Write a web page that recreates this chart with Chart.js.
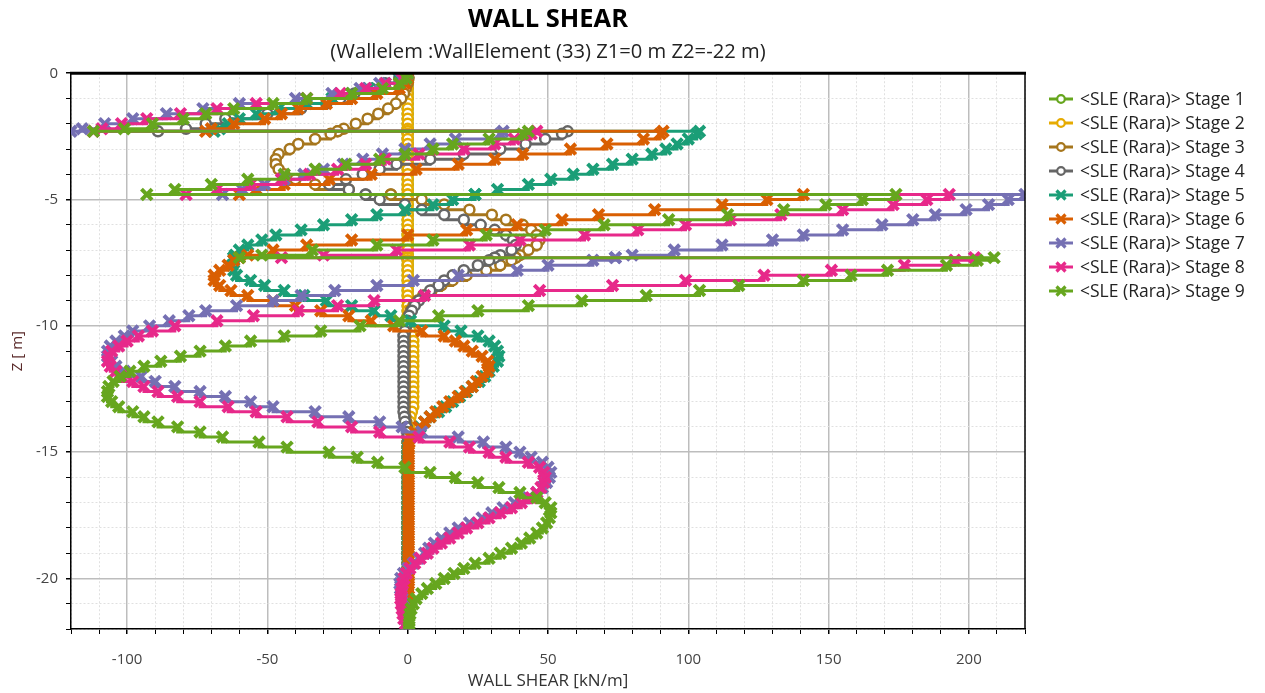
<!DOCTYPE html>
<html>
<head>
<meta charset="utf-8">
<title>Wall shear</title>
<script src="https://cdn.jsdelivr.net/npm/chart.js@4.4.1/dist/chart.umd.min.js"></script>
<style>
  html, body { margin: 0; padding: 0; background: #fff; }
  #wrap { width: 1265px; height: 693px; }
</style>
</head>
<body>
<div id="wrap"><canvas id="wallShearChart" width="1265" height="693"></canvas></div>
<script>
// node depths [m]; anchors at -2.3, -4.8, -7.3 are listed twice (jump in shear)
const depth = [
  0, -0.2, -0.4, -0.6, -0.8, -1.0, -1.2, -1.4, -1.6, -1.8, -2.0, -2.2, -2.3,
  -2.3, -2.4, -2.6, -2.8, -3.0, -3.2, -3.4, -3.6, -3.8, -4.0, -4.2, -4.4, -4.6, -4.8,
  -4.8, -5.0, -5.2, -5.4, -5.6, -5.8, -6.0, -6.2, -6.4, -6.6, -6.8, -7.0, -7.2, -7.3,
  -7.3, -7.4, -7.6, -7.8, -8.0, -8.2, -8.4, -8.6, -8.8, -9.0, -9.2, -9.4, -9.6, -9.8, -10.0,
  -10.2, -10.4, -10.6, -10.8, -11.0, -11.2, -11.4, -11.6, -11.8, -12.0, -12.2, -12.4, -12.6, -12.8, -13.0, -13.2, -13.4, -13.6, -13.8, -14.0,
  -14.2, -14.4, -14.6, -14.8, -15.0, -15.2, -15.4, -15.6, -15.8, -16.0, -16.2, -16.4, -16.6, -16.8, -17.0, -17.2, -17.4, -17.6, -17.8, -18.0,
  -18.2, -18.4, -18.6, -18.8, -19.0, -19.2, -19.4, -19.6, -19.8, -20.0, -20.2, -20.4, -20.6, -20.8, -21.0, -21.2, -21.4, -21.6, -21.8, -22.0
];

// wall shear [kN/m] per stage, same order as depth
const stage1 = [
  0, 0, 0, 0, 0, 0, 0, 0, 0, 0, 0, 0, 0,
  0, 0, 0, 0, 0, 0, 0, 0, 0, 0, 0, 0, 0, 0,
  0, 0, 0, 0, 0, 0, 0, 0, 0, 0, 0, 0, 0, 0,
  0, 0, 0, 0, 0, 0, 0, 0, 0, 0, 0, 0, 0, 0, 0,
  0, 0, 0, 0, 0, 0, 0, 0, 0, 0, 0, 0, 0, 0, 0, 0, 0, 0, 0, 0,
  0, 0, 0, 0, 0, 0, 0, 0, 0, 0, 0, 0, 0, 0, 0, 0, 0, 0, 0, 0,
  0, 0, 0, 0, 0, 0, 0, 0, 0, 0, 0, 0, 0, 0, 0, 0, 0, 0, 0, 0
];
const stage2 = [
  0, 0, 0, 0, 0, 0, 0, 0, 0, 0, 0, 0, 0,
  0, 0, 0, 0, 0, 0, 0, 0, 0, 0, 0, 0, 0, 0,
  0, 0, 0, 0, 0, 0, 0, 0, 0, 0, 0, 0, 0, 0,
  0, 0, 0, 0, 0, 0, 0, 0, 0, 0, 0, 0, 0, 0, 0.5,
  1, 1.5, 2, 2, 2, 2, 2, 2, 2, 2, 2, 2, 2, 2, 2, 2, 1.5, 1, 0.8, 0.5,
  0.2, 0, 0, 0, 0, 0, 0, 0, 0, 0, 0, 0, 0, 0, 0, 0, 0, 0, 0, 0,
  0, 0, 0, 0, 0, 0, 0, 0, 0, 0, 0, 0, 0, 0, 0, 0, 0, 0, 0, 0
];
const stage3 = [
  0, 0.3, 0, -0.7, -1.3, -2.3, -4.2, -7, -10.5, -14.3, -18.5, -22.8, -25,
  -25, -27.5, -33, -39, -42, -46, -47, -47, -46, -44, -40, -33, -21, -6,
  -6, 5, 13, 22, 30, 35, 41, 44, 46, 47, 46, 43, 40, 38.5,
  38.5, 37, 33, 28, 21, 16, 12, 8.5, 5.5, 3.5, 2, 1, 0.3, 0, -0.5,
  -0.8, -1, -1, -1, -1, -1, -1, -1, -1, -1, -1, -1, -1, -1, -1, -1, -1, -0.8, -0.5, -0.3,
  0, 0, 0, 0, 0, 0, 0, 0, 0, 0, 0, 0, 0, 0, 0, 0, 0, 0, 0, 0,
  0, 0, 0, 0, 0, 0, 0, 0, 0, 0, 0, 0, 0, 0, 0, 0, 0, 0, 0, 0
];
const stage4 = [
  0, -3, -8, -13, -19, -24, -29, -38, -50, -65, -72, -79, -89,
  57, 55, 49, 42, 33, 20, 8, -4, -10, -16, -22, -28, -21, -15,
  -15, -10, -1, 5, 13, 20, 26, 31, 35, 37.5, 38.5, 37, 33, 31,
  31, 29, 25, 20, 16, 13, 11, 8, 6, 4, 2.5, 1.5, 0.5, 0, -0.5,
  -1, -1.5, -1.5, -1.5, -1.5, -1.5, -1.5, -1.5, -1.5, -1.5, -1.5, -1.5, -1.5, -1.5, -1.5, -1.5, -1.5, -1.2, -1, -0.5,
  -0.2, 0, 0, 0, 0, 0, 0, 0, 0, 0, 0, 0, 0, 0, 0, 0, 0, 0, 0, 0,
  0, 0, 0, 0, 0, 0, 0, 0, 0, 0, 0, 0, 0, 0, 0, 0, 0, 0, 0, 0
];
const stage5 = [
  0, -3, -8, -14, -20, -27, -36, -46, -54, -60, -64, -67, -69,
  104, 103, 100, 96, 92, 87, 80, 73, 66, 59, 51, 43, 32, 24,
  24, 16, 9, -1, -11, -20, -30, -38, -47, -52, -57, -60, -61.5, -62,
  -62, -62, -62.5, -62, -61, -56, -51, -44, -37, -29, -20, -12, -6, 1, 13,
  19, 25, 29, 31, 32, 32.5, 32, 30.5, 29, 27.5, 25.5, 23, 21, 18.5, 16, 13.5, 11, 8, 6, 4.5,
  2.5, 1, 0.3, 0, 0, 0, 0, 0, 0, 0, 0, 0, 0, 0, 0, 0, 0, 0, 0, 0,
  0, 0, 0, 0, 0, 0, 0, 0, 0, 0, 0, 0, 0, 0, 0, 0, 0, 0, 0, 0
];
const stage6 = [
  0, 0, -1, -3, -11, -20, -29, -39, -45, -51, -62, -70, -72,
  91, 90, 84, 71, 58, 41, 31, 18, 3, -13, -28, -44, -54, -60,
  141, 128, 112, 88, 68, 55, 39, 21, 0, -20, -36, -48, -57, -60,
  -60, -62, -64, -67, -69, -69, -67, -63, -57, -48, -40, -31, -21, -13, -5,
  5, 13, 17, 20, 23, 26.5, 28.5, 29, 28.5, 26.5, 24.5, 23, 20.5, 18, 15, 12.5, 10, 8, 6, 4,
  2.5, 1, 0.5, 0.3, 0.3, 0.3, 0.3, 0.3, 0.3, 0.3, 0.3, 0.3, 0.3, 0.3, 0.3, 0.3, 0.3, 0.3, 0.3, 0.3,
  0.3, 0.3, 0.3, 0.3, 0.3, 0.3, 0.3, 0.3, 0.3, 0.3, 0.3, 0.3, 0, 0, 0, 0, 0, 0, 0, 0
];
const stage7 = [
  0, -2.5, -10, -17, -27, -40, -60, -73, -86, -98, -108, -116, -120,
  34, 33, 17, 8, -1, -9, -16, -23, -30, -37, -44, -51, -59, -66,
  220, 214, 207, 199, 188, 180, 169, 155, 141, 130, 112, 95, 80, 74,
  74, 66, 50, 39, 18, 2, -11, -26, -38, -48, -61, -72, -78, -85, -92,
  -98, -101, -104, -106, -107, -107, -105.5, -104, -101, -95, -90, -83, -74, -65, -56, -48, -33, -21, -10, -2,
  5, 18, 27, 35, 40, 44, 48, 50, 51, 50.5, 49.5, 48, 46, 43, 38, 34, 30, 26.5, 22, 18,
  15, 12, 9.5, 7.5, 6, 4, 2, 0, -1.5, -2.5, -2.8, -2.6, -2.2, -2, -1.6, -1.2, -0.8, -0.5, -0.2, 0
];
const stage8 = [
  0, -2, -8, -15, -24, -36, -54, -68, -81, -93, -102, -109, -112,
  46, 44, 38, 31, 20, 4, -8, -15, -25, -35, -45, -56, -68, -79,
  193, 185, 173, 155, 133, 115, 99, 82, 63, 40, 22, -4, -30, -45,
  202, 195, 177, 151, 127, 99, 73, 47, 6, -12, -25, -39, -55, -68, -83,
  -91, -96, -100, -103, -105.5, -106.5, -107, -106, -104, -102, -98, -94, -89, -82, -74, -64, -54, -43, -32, -20,
  -10, 4, 15, 22, 29, 35, 43, 47, 48.5, 49, 48.5, 47.5, 46, 44, 40.5, 37, 33, 29, 25, 21,
  18, 15, 12, 9, 7, 4.5, 2.5, 0.8, -0.5, -1.3, -1.8, -2.2, -2.4, -2.5, -2.3, -2, -1.7, -1.4, -0.8, 0
];
const stage9 = [
  0, -0.5, -3, -9, -20, -36, -48, -62, -72, -80, -91, -101, -112,
  43, 41, 29, 16, 9, -1, -10, -22, -33, -44, -57, -70, -83, -93,
  174, 162, 149, 134, 114, 93, 70, 49, 28, 9, -11, -34, -52, -60,
  209, 203, 192, 171, 158, 141, 118, 104, 85, 62, 43, 25, 11, -3, -17,
  -31, -44, -56, -65, -74, -81, -88, -94, -99, -102.5, -105, -106.5, -107, -107, -105.5, -103, -98, -94, -89, -82,
  -74, -66, -53, -43, -28, -18, -10.7, -1, 8, 17, 25, 32.5, 40, 46, 49, 51, 51, 50.5, 49.5, 48,
  46, 43.5, 40.5, 37, 33, 29, 24, 20, 16.5, 13, 10, 7, 5, 3, 2, 1.2, 0.8, 0.5, 0.5, 0.5
];

const stageLabels = [
  '<SLE (Rara)> Stage 1', '<SLE (Rara)> Stage 2', '<SLE (Rara)> Stage 3',
  '<SLE (Rara)> Stage 4', '<SLE (Rara)> Stage 5', '<SLE (Rara)> Stage 6',
  '<SLE (Rara)> Stage 7', '<SLE (Rara)> Stage 8', '<SLE (Rara)> Stage 9'
];
const stageColors = ['#66a61e', '#e6ab02', '#a6761d', '#666666', '#1b9e77', '#d95f02', '#7570b3', '#e7298a', '#66a61e'];
const allStages = [stage1, stage2, stage3, stage4, stage5, stage6, stage7, stage8, stage9];

Chart.defaults.font.family = "'Open Sans', 'Noto Sans', sans-serif";
Chart.defaults.color = '#333';

let isCircle = function (i) { return i < 4; };

let datasets = allStages.map(function (vals, i) {
  return {
    label: stageLabels[i],
    data: depth.map(function (z, k) { return { x: vals[k], y: z }; }),
    borderColor: stageColors[i],
    backgroundColor: stageColors[i],
    borderWidth: 3,
    stepped: 'after',
    fill: false,
    pointStyle: isCircle(i) ? 'circle' : 'crossRot',
    pointRadius: isCircle(i) ? 5 : 7.5,
    pointBorderWidth: isCircle(i) ? 2.5 : 4,
    pointBackgroundColor: isCircle(i) ? '#ffffff' : stageColors[i],
    pointBorderColor: stageColors[i],
    order: 9 - i   // later stages on top
  };
});

// black frame: thick top line, right line
const framePlugin = {
  id: 'frame',
  afterDatasetsDraw: function (chart) {
    const a = chart.chartArea, ctx = chart.ctx;
    ctx.save();
    ctx.strokeStyle = '#000';
    ctx.lineWidth = 3;
    ctx.beginPath();
    ctx.moveTo(a.left - 1, a.top);
    ctx.lineTo(a.right + 1, a.top);
    ctx.stroke();
    ctx.lineWidth = 1.5;
    ctx.beginPath();
    ctx.moveTo(a.right, a.top);
    ctx.lineTo(a.right, a.bottom);
    ctx.stroke();
    ctx.restore();
  }
};

// legend on the right: line + marker + text
const stageLegend = {
  id: 'stageLegend',
  afterDraw: function (chart) {
    const ctx = chart.ctx;
    ctx.save();
    chart.data.datasets.forEach(function (ds, i) {
      const y = 99 + i * 24;
      ctx.strokeStyle = ds.borderColor;
      ctx.lineWidth = 3;
      ctx.beginPath();
      ctx.moveTo(1049, y);
      ctx.lineTo(1073, y);
      ctx.stroke();
      if (isCircle(i)) {
        ctx.fillStyle = '#fff';
        ctx.lineWidth = 2.2;
        ctx.beginPath();
        ctx.arc(1061, y, 3.8, 0, Math.PI * 2);
        ctx.fill();
        ctx.stroke();
      } else {
        ctx.lineWidth = 3.2;
        ctx.beginPath();
        ctx.moveTo(1056.5, y - 4.5); ctx.lineTo(1065.5, y + 4.5);
        ctx.moveTo(1065.5, y - 4.5); ctx.lineTo(1056.5, y + 4.5);
        ctx.stroke();
      }
      ctx.fillStyle = '#222';
      ctx.font = "17.5px 'Open Sans', 'Noto Sans', sans-serif";
      ctx.textBaseline = 'middle';
      ctx.textAlign = 'left';
      ctx.fillText(ds.label, 1080, y + 1);
    });
    ctx.restore();
  }
};

let gridColor = function (step) {
  return function (c) { return (c.tick && c.tick.value % step === 0) ? '#bdbdbd' : '#e0e0e0'; };
};
let gridWidth = function (step) {
  return function (c) { return (c.tick && c.tick.value % step === 0) ? 1.5 : 1; };
};
let gridDash = function (step) {
  return function (c) { return (c.tick && c.tick.value % step !== 0) ? [2, 2] : []; };
};

let chart = new Chart('wallShearChart', {
  type: 'line',
  data: { datasets: datasets },
  options: {
    responsive: false,
    animation: false,
    layout: { padding: { left: 0, right: 240, top: 0, bottom: 0 } },
    plugins: {
      legend: { display: false },
      tooltip: { enabled: false },
      title: {
        display: true,
        text: 'WALL SHEAR',
        fullSize: false,
        color: '#000',
        font: { size: 25.5, weight: 'bold' },
        padding: { top: 4, bottom: 2 }
      },
      subtitle: {
        display: true,
        text: '(Wallelem :WallElement (33) Z1=0 m Z2=-22 m)',
        fullSize: false,
        color: '#222',
        font: { size: 20.2 },
        padding: { top: 3.8, bottom: 8.6 }
      }
    },
    scales: {
      x: {
        type: 'linear',
        min: -120,
        max: 220,
        afterFit: function (scale) { scale.height = 64; },
        ticks: {
          stepSize: 10,
          autoSkip: false,
          maxRotation: 0,
          padding: 17,
          color: '#444',
          font: { size: 15 },
          callback: function (v) { return v % 50 === 0 ? v : ''; }
        },
        grid: { color: gridColor(50), lineWidth: gridWidth(50), tickColor: '#000', tickLength: 5 },
        border: { color: '#000', width: 1.5, dash: gridDash(50) },
        title: { display: true, text: 'WALL SHEAR [kN/m]', color: '#333', font: { size: 17 }, padding: { top: 0, bottom: 2 } }
      },
      y: {
        type: 'linear',
        min: -22,
        max: 0,
        afterFit: function (scale) { scale.width = 71; },
        ticks: {
          stepSize: 1,
          autoSkip: false,
          padding: 8,
          color: '#444',
          font: { size: 15 },
          callback: function (v) { return v % 5 === 0 ? v : ''; }
        },
        grid: { color: gridColor(5), lineWidth: gridWidth(5), tickColor: '#000', tickLength: 5 },
        border: { color: '#000', width: 1.5, dash: gridDash(5) },
        title: { display: true, text: 'Z [ m]', color: '#5a2a2a', font: { size: 15 }, padding: { top: 9, bottom: 0 } }
      }
    }
  },
  plugins: [framePlugin, stageLegend]
});
</script>
</body>
</html>
